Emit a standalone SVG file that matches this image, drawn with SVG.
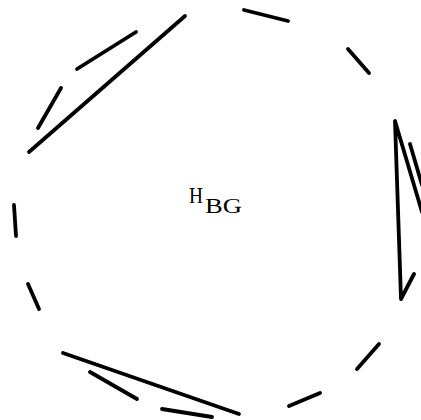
<svg xmlns="http://www.w3.org/2000/svg" width="421" height="420" viewBox="0 0 421 420">
<style>
.s{fill:none;stroke:#000;stroke-width:3.8;stroke-linecap:round;stroke-linejoin:round}
text{font-family:"Liberation Serif","Times New Roman",serif;fill:#000}
</style>
<rect width="421" height="420" fill="#fff"/>
<g id="label">
<text x="189" y="203" font-size="24" textLength="14" lengthAdjust="spacingAndGlyphs">H</text>
<text x="205" y="213" font-size="21" textLength="37" lengthAdjust="spacingAndGlyphs">BG</text>
</g>
<g id="connectors">
<line class="s" x1="29" y1="152" x2="185" y2="16"/>
<line class="s" x1="77" y1="69" x2="136" y2="32"/>
<line class="s" x1="38" y1="128" x2="61" y2="88"/>
<line class="s" x1="244" y1="10" x2="288" y2="21"/>
<line class="s" x1="348" y1="49" x2="369" y2="73"/>
<polyline class="s" points="422,212 395,121 401,299 414,274"/>
<line class="s" x1="410" y1="144" x2="422" y2="185"/>
<line class="s" x1="379" y1="344" x2="357" y2="369"/>
<line class="s" x1="320" y1="393" x2="289" y2="406"/>
<line class="s" x1="63" y1="353" x2="239" y2="414"/>
<line class="s" x1="90" y1="372" x2="137" y2="399"/>
<line class="s" x1="162" y1="409" x2="212" y2="417"/>
<line class="s" x1="14" y1="205" x2="16" y2="236"/>
<line class="s" x1="28" y1="284" x2="39" y2="309"/>
</g>
</svg>
